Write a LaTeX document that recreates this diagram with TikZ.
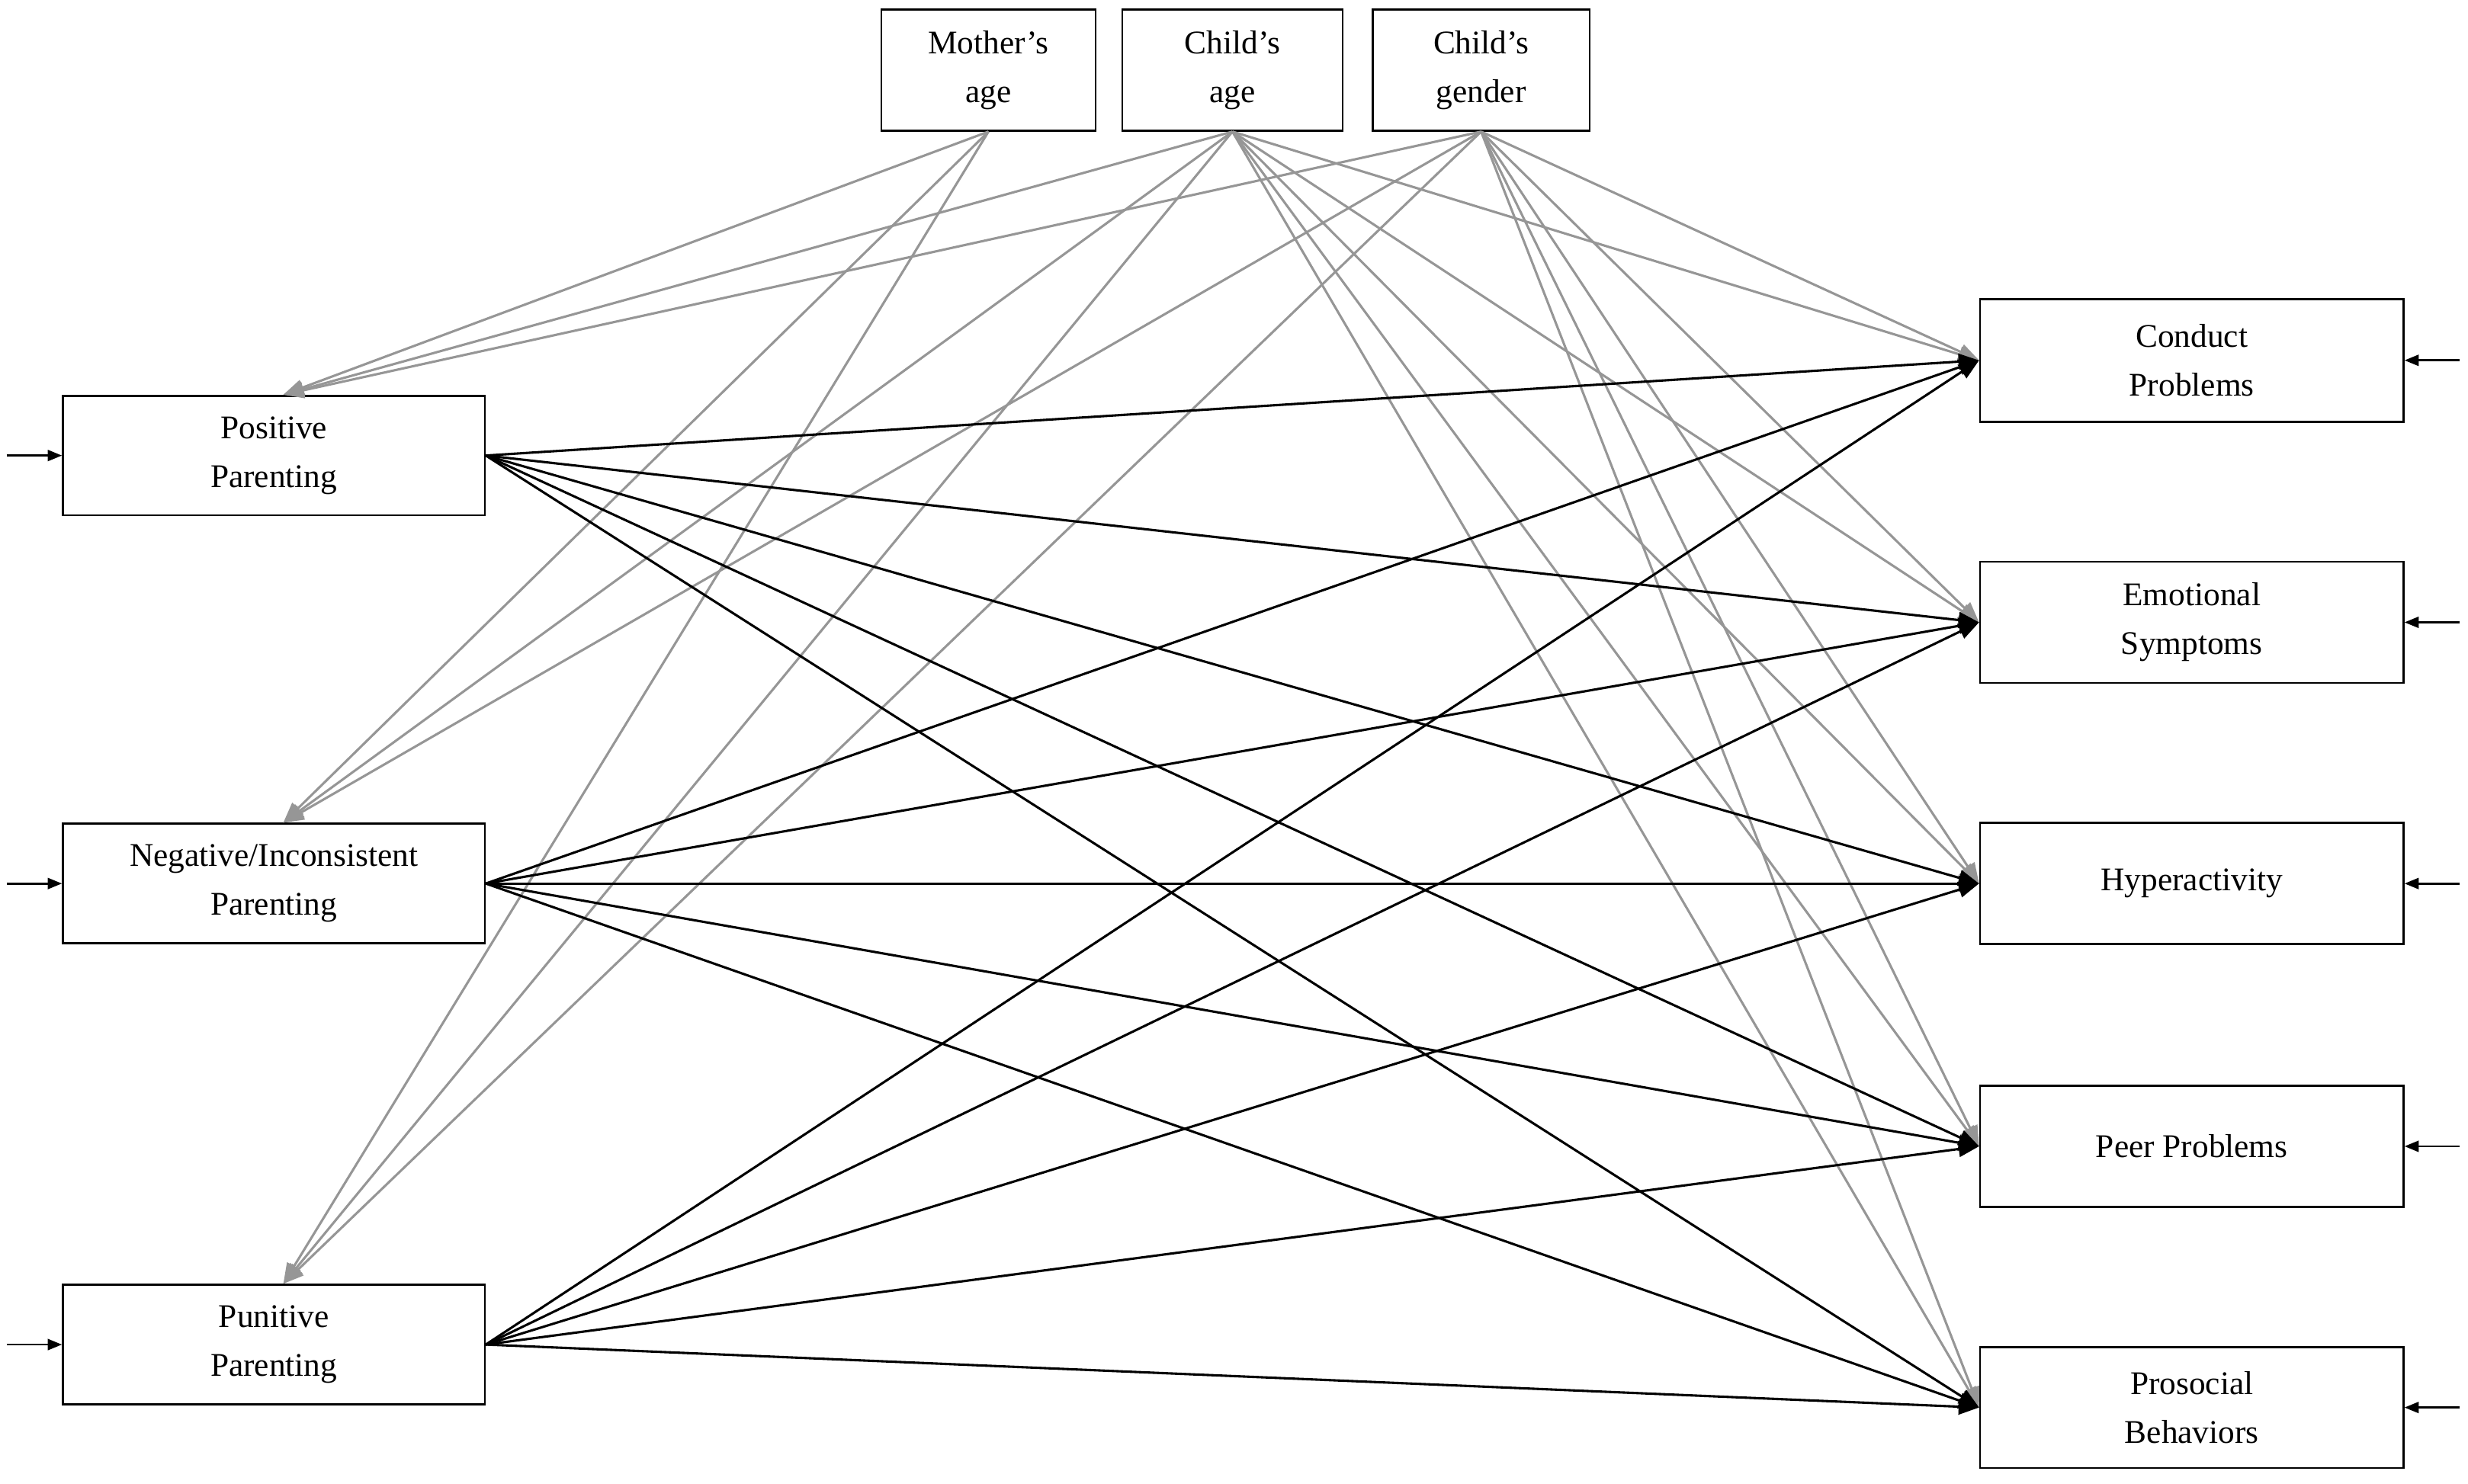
\documentclass[tikz,border=0pt]{standalone}
\usepackage{fontspec}
\setmainfont{Liberation Serif}
\usetikzlibrary{arrows.meta}
\begin{document}
\begin{tikzpicture}[x=1pt,y=-1pt,
 box/.style={draw,line width=1.3pt,minimum width=268pt,minimum height=76pt,align=center,font=\fontsize{21}{31}\selectfont,inner sep=0pt},
 cov/.style={box,minimum width=136pt,minimum height=77pt},
 blk/.style={line width=1.5pt,-{Triangle[length=13pt,width=10pt]}},
 gry/.style={line width=1.5pt,draw={rgb,255:red,150;green,150;blue,150},-{Triangle[length=13pt,width=10pt]}},
 sml/.style={line width=1.3pt,-{Triangle[length=9pt,width=7pt]}}]
\useasboundingbox (0,0) rectangle (1568,943);
\node[cov] (ma) at (628,44.5) {Mother’s\\age};
\node[cov,minimum width=140pt] (ca) at (783,44.5) {Child’s\\age};
\node[cov,minimum width=138pt] (cg) at (941,44.5) {Child’s\\gender};
\node[box] (pp) at (174,289.5) {Positive\\Parenting};
\node[box] (np) at (174,561.5) {Negative/Inconsistent\\Parenting};
\node[box] (up) at (174,854.5) {Punitive\\Parenting};
\node[box,minimum width=269pt,minimum height=78pt] (cp) at (1392.5,229) {Conduct\\Problems};
\node[box,minimum width=269pt,minimum height=77pt] (es) at (1392.5,395.5) {Emotional\\Symptoms};
\node[box,minimum width=269pt,minimum height=77pt] (hy) at (1392.5,561.5) {Hyperactivity};
\node[box,minimum width=269pt,minimum height=77pt] (pe) at (1392.5,728.5) {Peer Problems};
\node[box,minimum width=269pt,minimum height=77pt] (ps) at (1392.5,894.5) {Prosocial\\Behaviors};
\foreach \c in {ma,ca,cg}{
 \foreach \p in {pp,np,up}{
  \draw[gry] (\c.south) -- ([xshift=6pt]\p.north);
 }}
\foreach \c in {ca,cg}{
 \foreach \o in {cp,es,hy,pe,ps}{
  \draw[gry] (\c.south) -- (\o.west);
 }}
\foreach \p in {pp,np,up}{
 \foreach \o in {cp,es,hy,pe,ps}{
  \draw[blk] (\p.east) -- (\o.west);
 }}
\foreach \p in {pp,np,up}{
 \coordinate (s\p) at ([xshift=-35pt]\p.west);
 \draw[sml] (s\p) -- (\p.west);
}
\foreach \o in {cp,es,hy,pe,ps}{
 \coordinate (s\o) at ([xshift=35pt]\o.east);
 \draw[sml] (s\o) -- (\o.east);
}
\end{tikzpicture}
\end{document}
